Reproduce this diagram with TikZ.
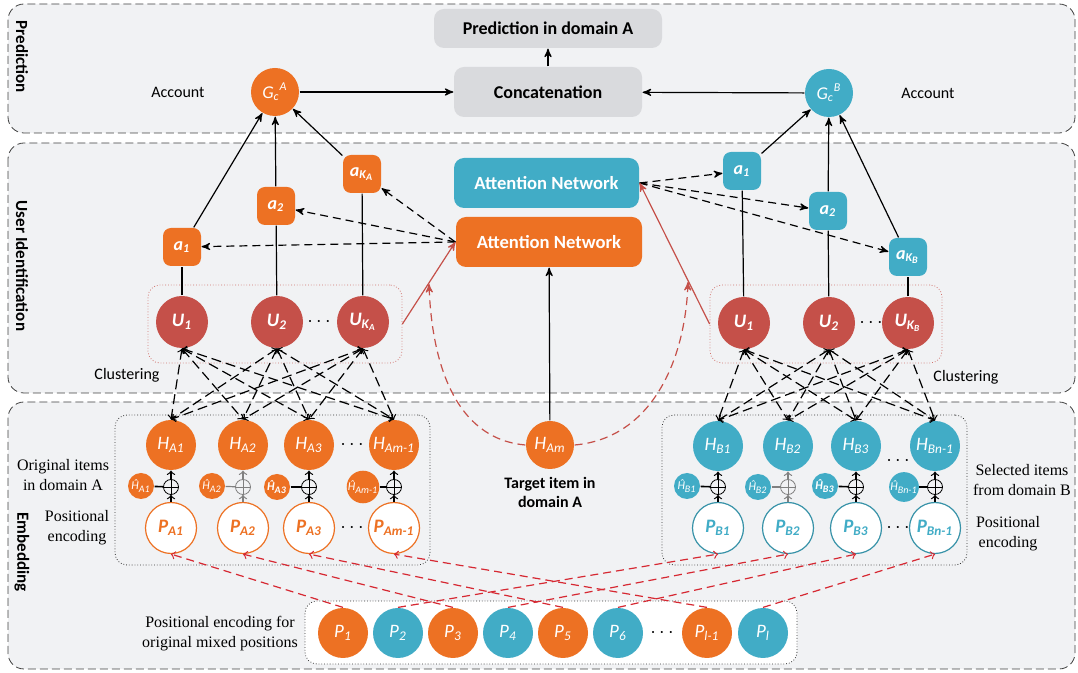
\documentclass[tikz,border=0pt]{standalone}
\usepackage{fontspec}
\setmainfont{Liberation Serif}
\setsansfont{Carlito}
\usetikzlibrary{arrows}
\usepackage{xcolor}
\definecolor{myorange}{RGB}{237,113,35}
\definecolor{myblue}{RGB}{65,172,198}
\definecolor{myred}{RGB}{197,80,73}
\definecolor{dashred}{RGB}{214,40,50}
\definecolor{panelgray}{RGB}{241,242,244}
\definecolor{boxgray}{RGB}{217,218,221}

\begin{document}
\begin{tikzpicture}[x=0.5pt,y=-0.5pt,>=stealth',semithick,font=\sffamily]
  \tikzstyle{panel}=[draw=black!75,thin,dash pattern=on 4pt off 2pt,rounded corners=8pt,fill=panelgray]
  \tikzstyle{sidelabel}=[rotate=-90,font=\sffamily\bfseries\fontsize{8.5}{10}\selectfont]
  \tikzstyle{graybox}=[rectangle,rounded corners=5pt,fill=boxgray,font=\sffamily\bfseries\fontsize{9}{10}\selectfont]
  \tikzstyle{attbox}=[rectangle,rounded corners=5pt,text=white,minimum height=25pt,font=\sffamily\bfseries\fontsize{9.3}{10}\selectfont]
  \tikzstyle{gnode}=[circle,minimum size=24pt,inner sep=0pt,text=white,font=\sffamily\itshape\fontsize{9}{10}\selectfont]
  \tikzstyle{anode}=[rectangle,rounded corners=4pt,minimum size=19pt,inner sep=0pt,text=white,font=\sffamily\bfseries\itshape\fontsize{9}{10}\selectfont]
  \tikzstyle{unode}=[circle,fill=myred,minimum size=26pt,inner sep=0pt,text=white,font=\sffamily\bfseries\itshape\fontsize{9.5}{10}\selectfont]
  \tikzstyle{hnode}=[circle,minimum size=25pt,inner sep=0pt,text=white,font=\sffamily\itshape\fontsize{9.5}{10}\selectfont]
  \tikzstyle{hhat}=[circle,minimum size=13pt,inner sep=0pt,text=white,font=\sffamily\itshape\fontsize{6}{7}\selectfont]
  \tikzstyle{pnode}=[circle,fill=white,line width=0.6pt,minimum size=25.5pt,inner sep=0pt,font=\sffamily\bfseries\itshape\fontsize{9.5}{10}\selectfont]
  \tikzstyle{mixnode}=[circle,minimum size=25pt,inner sep=0pt,text=white,font=\sffamily\itshape\fontsize{9.5}{10}\selectfont]
  \tikzstyle{oplus}=[circle,draw,thin,minimum size=7.5pt,inner sep=0pt,path picture={\draw[thin] (path picture bounding box.north) -- (path picture bounding box.south) (path picture bounding box.west) -- (path picture bounding box.east);}]
  \tikzstyle{cluster}=[rectangle,draw=myred!80,densely dotted,thin,rounded corners=6pt,minimum height=39pt]
  \tikzstyle{itembox}=[rectangle,draw=black!80,densely dotted,thin,rounded corners=6pt]
  \tikzstyle{plain}=[font=\sffamily\fontsize{8}{10}\selectfont]
  \tikzstyle{serif}=[align=center,font=\rmfamily\fontsize{8}{10}\selectfont]
  \tikzstyle{mesh}=[<->,>=to,dash pattern=on 5pt off 2.5pt]
  \tikzstyle{redmesh}=[->,>=to,dashred,dash pattern=on 4pt off 2.5pt]

  \useasboundingbox (0,0) rectangle (1078,673);
  \draw[panel] (8,4) rectangle (1075,133);
  \draw[panel] (8,143) rectangle (1075,393);
  \draw[panel] (8,402) rectangle (1075,669);
  \node[sidelabel] (labP) at (22,57)  {Prediction};
  \node[sidelabel] (labU) at (22,266) {User Identification};
  \node[sidelabel] (labE) at (22,552) {Embedding};

  % prediction
  \node[graybox,minimum width=114pt,minimum height=19.5pt] (pred)   at (548,28.5) {Prediction in domain A};
  \node[graybox,minimum width=94pt,minimum height=25pt]    (concat) at (548,92)   {Concatenation};
  \node[gnode,fill=myorange] (GA) at (275,92) {G\textsubscript{c}\textsuperscript{A}};
  \node[gnode,fill=myblue]   (GB) at (829,93) {G\textsubscript{c}\textsuperscript{B}};
  \node[plain] (accA) at (178,92) {Account};
  \node[plain] (accB) at (928,93) {Account};

  % user identification
  \node[attbox,fill=myblue,minimum width=92.5pt]  (attB) at (546.5,183) {Attention Network};
  \node[attbox,fill=myorange,minimum width=93pt]  (attA) at (549,242)   {Attention Network};

  \node[cluster,minimum width=127pt] (clusA) at (275,324) {};
  \node[cluster,minimum width=116pt] (clusB) at (826,324) {};
  \node[unode] (UA1) at (182,322) {U\textsubscript{1}};
  \node[unode] (UA2) at (277,322) {U\textsubscript{2}};
  \node[unode] (UAK) at (363,322) {U\textsubscript{K\textsubscript{A}}};
  \node (dotsUA) at (319,322) {$\cdots$};
  \node[unode] (UB1) at (744,323) {U\textsubscript{1}};
  \node[unode] (UB2) at (829,323) {U\textsubscript{2}};
  \node[unode] (UBK) at (908,323) {U\textsubscript{K\textsubscript{B}}};
  \node (dotsUB) at (871,323) {$\cdots$};
  \node[plain] (clA) at (127,375) {Clustering};
  \node[plain] (clB) at (966,377) {Clustering};

  \node[anode,fill=myorange] (aA1) at (182,247) {a\textsubscript{1}};
  \node[anode,fill=myorange] (aA2) at (276,206) {a\textsubscript{2}};
  \node[anode,fill=myorange] (aAK) at (362,174) {a\textsubscript{K\textsubscript{A}}};
  \node[anode,fill=myblue]   (aB1) at (742,171) {a\textsubscript{1}};
  \node[anode,fill=myblue]   (aB2) at (828,211) {a\textsubscript{2}};
  \node[anode,fill=myblue]   (aBK) at (908,257) {a\textsubscript{K\textsubscript{B}}};

  % embedding
  \node[itembox,minimum width=157.5pt,minimum height=75pt] (boxA) at (272.5,490) {};
  \node[itembox,minimum width=152.5pt,minimum height=75pt] (boxB) at (814.5,490) {};
  \node[itembox,fill=white,minimum width=246pt,minimum height=31.5pt] (boxP) at (551,632.5) {};

  \node[hnode,fill=myorange] (HA1)  at (171,445) {H\textsubscript{A1}};
  \node[hnode,fill=myorange] (HA2)  at (243,445) {H\textsubscript{A2}};
  \node[hnode,fill=myorange] (HA3)  at (309,445) {H\textsubscript{A3}};
  \node[hnode,fill=myorange] (HAm1) at (394,445) {H\textsubscript{Am-1}};
  \node (dotsHA) at (352,445) {$\cdots$};
  \node[hhat,fill=myorange] (hA1)  at (141,486) {\^{H}\textsubscript{A1}};
  \node[hhat,fill=myorange] (hA2)  at (212,486) {\^{H}\textsubscript{A2}};
  \node[hhat,fill=myorange,font=\sffamily\bfseries\itshape\fontsize{6}{7}\selectfont] (hA3) at (277,487) {\^{H}\textsubscript{A3}};
  \node[hhat,fill=myorange] (hAm1) at (363,487) {\^{H}\textsubscript{Am-1}};
  \node[oplus] (opA1)  at (171,487) {};
  \node[oplus,draw=gray] (opA2) at (243,487) {};
  \node[oplus] (opA3)  at (309,487) {};
  \node[oplus] (opAm1) at (394,487) {};
  \node[pnode,draw=myorange,text=myorange] (PA1)  at (171,528) {P\textsubscript{A1}};
  \node[pnode,draw=myorange,text=myorange] (PA2)  at (243,528) {P\textsubscript{A2}};
  \node[pnode,draw=myorange,text=myorange] (PA3)  at (309,528) {P\textsubscript{A3}};
  \node[pnode,draw=myorange,text=myorange] (PAm1) at (394,528) {P\textsubscript{Am-1}};
  \node (dotsPA) at (352,528) {$\cdots$};

  \node[hnode,fill=myblue] (HB1)  at (718,446) {H\textsubscript{B1}};
  \node[hnode,fill=myblue] (HB2)  at (788,446) {H\textsubscript{B2}};
  \node[hnode,fill=myblue] (HB3)  at (856,446) {H\textsubscript{B3}};
  \node[hnode,fill=myblue] (HBn1) at (935,446) {H\textsubscript{Bn-1}};
  \node (dotsHB) at (898,461) {$\cdots$};
  \node[hhat,fill=myblue] (hB1)  at (687,486) {\^{H}\textsubscript{B1}};
  \node[hhat,fill=myblue] (hB2)  at (758,487) {\^{H}\textsubscript{B2}};
  \node[hhat,fill=myblue,font=\sffamily\bfseries\itshape\fontsize{6}{7}\selectfont] (hB3) at (825,486) {\^{H}\textsubscript{B3}};
  \node[hhat,fill=myblue] (hBn1) at (904,487) {\^{H}\textsubscript{Bn-1}};
  \node[oplus] (opB1)  at (718,487) {};
  \node[oplus,draw=gray] (opB2) at (788,487) {};
  \node[oplus] (opB3)  at (856,487) {};
  \node[oplus] (opBn1) at (935,487) {};
  \node[pnode,draw=myblue!85!black,text=myblue] (PB1)  at (718,528) {P\textsubscript{B1}};
  \node[pnode,draw=myblue!85!black,text=myblue] (PB2)  at (788,528) {P\textsubscript{B2}};
  \node[pnode,draw=myblue!85!black,text=myblue] (PB3)  at (856,528) {P\textsubscript{B3}};
  \node[pnode,draw=myblue!85!black,text=myblue] (PBn1) at (935,528) {P\textsubscript{Bn-1}};
  \node (dotsPB) at (898,528) {$\cdots$};

  \node[hnode,fill=myorange,minimum size=24pt] (HAm) at (550,445) {H\textsubscript{Am}};
  \node[align=center,font=\sffamily\bfseries\fontsize{8}{9.5}\selectfont] (target) at (550,492) {Target item in\\domain A};
  \coordinate (cA) at (429,284);
  \coordinate (cB) at (688,282);

  \node[mixnode,fill=myorange] (P1)  at (343,633) {P\textsubscript{1}};
  \node[mixnode,fill=myblue]   (P2)  at (398,633) {P\textsubscript{2}};
  \node[mixnode,fill=myorange] (P3)  at (453,633) {P\textsubscript{3}};
  \node[mixnode,fill=myblue]   (P4)  at (508,633) {P\textsubscript{4}};
  \node[mixnode,fill=myorange] (P5)  at (563,633) {P\textsubscript{5}};
  \node[mixnode,fill=myblue]   (P6)  at (618,633) {P\textsubscript{6}};
  \node (dotsP) at (662,633) {$\cdots$};
  \node[mixnode,fill=myorange] (Pl1) at (707,633) {P\textsubscript{l-1}};
  \node[mixnode,fill=myblue]   (Pl)  at (763,633) {P\textsubscript{l}};

  \node[serif] (txtA)  at (63,475)   {Original items\\in domain A};
  \node[serif] (txtPA) at (77,528)   {Positional\\encoding};
  \node[serif] (txtB)  at (1022,480) {Selected items\\from domain B};
  \node[serif] (txtPB) at (1008,534) {Positional\\encoding};
  \node[serif] (txtP)  at (220,634)  {Positional encoding for\\original mixed positions};

  % connectors
  \path[->]
        (GA) edge (concat)
        (GB) edge (concat)
        (concat) edge (pred)
        (aA1) edge (GA)
        (aA2) edge (GA)
        (aAK) edge (GA)
        (aB1) edge (GB)
        (aB2) edge (GB)
        (aBK) edge (GB)
        (HAm) edge (attA);
  \path
        (UA1) edge (aA1)
        (UA2) edge (aA2)
        (UAK) edge (aAK)
        (UB1) edge (aB1)
        (UB2) edge (aB2)
        (UBK) edge (aBK);
  \path[->,dash pattern=on 4pt off 2.5pt]
        (attA.west) edge (aA1) edge (aA2) edge (aAK)
        (attB.east) edge (aB1) edge (aB2) edge (aBK);
  \path[->,myred]
        (clusA.east) edge (attA.west)
        (clusB.west) edge (attB.east);
  \draw[->,myred,dash pattern=on 4pt off 2.5pt] (HAm.west) to[out=175,in=-88] (cA);
  \draw[->,myred,dash pattern=on 4pt off 2.5pt] (HAm.east) to[out=5,in=-92] (cB);

  \path[mesh]
        (UA1.south) edge (HA1.north) edge (HA2.north) edge (HA3.north) edge (HAm1.north)
        (UA2.south) edge (HA1.north) edge (HA2.north) edge (HA3.north) edge (HAm1.north)
        (UAK.south) edge (HA1.north) edge (HA2.north) edge (HA3.north) edge (HAm1.north)
        (UB1.south) edge (HB1.north) edge (HB2.north) edge (HB3.north) edge (HBn1.north)
        (UB2.south) edge (HB1.north) edge (HB2.north) edge (HB3.north) edge (HBn1.north)
        (UBK.south) edge (HB1.north) edge (HB2.north) edge (HB3.north) edge (HBn1.north);

  \path[->,>=to]
        (PA1) edge (opA1) (opA1) edge (HA1)
        (PA3) edge (opA3) (opA3) edge (HA3)
        (PAm1) edge (opAm1) (opAm1) edge (HAm1)
        (PB1) edge (opB1) (opB1) edge (HB1)
        (PB3) edge (opB3) (opB3) edge (HB3)
        (PBn1) edge (opBn1) (opBn1) edge (HBn1);
  \path[->,>=to,gray]
        (PA2) edge (opA2) (opA2) edge (HA2)
        (PB2) edge (opB2) (opB2) edge (HB2);
  \path[thick]
        (hA1) edge (opA1) (hA3) edge (opA3) (hAm1) edge (opAm1)
        (hB1) edge (opB1) (hB3) edge (opB3) (hBn1) edge (opBn1);
  \path[gray] (hA2) edge (opA2) (hB2) edge (opB2);

  \path[redmesh]
        (P1.north) edge (PA1.south)
        (P3.north) edge (PA2.south)
        (P5.north) edge (PA3.south)
        (Pl1.north) edge (PAm1.south)
        (P2.north) edge (PB1.south)
        (P4.north) edge (PB2.south)
        (P6.north) edge (PB3.south)
        (Pl.north) edge (PBn1.south);
\end{tikzpicture}
\end{document}
